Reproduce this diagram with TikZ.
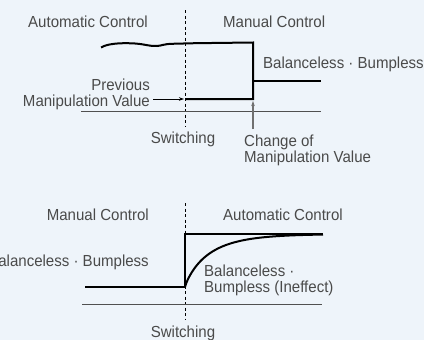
\documentclass[tikz,border=0pt]{standalone}
\usepackage{fontspec}
\setmainfont{Liberation Sans}[FakeStretch=0.94]
\usetikzlibrary{arrows.meta}
\definecolor{bgc}{HTML}{EEF4FA}
\definecolor{txt}{HTML}{4A4A4A}
\definecolor{axisgray}{HTML}{505050}
\definecolor{arrgray}{HTML}{707070}
\tikzset{
  lbl/.style={inner sep=0pt, text=txt, font=\fontsize{16}{17}\selectfont},
  signal/.style={line width=2pt, black, line join=miter},
  axisline/.style={line width=1pt, axisgray},
  switchline/.style={line width=0.9pt, black, dash pattern=on 3pt off 2.5pt},
  pointer/.style={line width=0.9pt, -{Stealth[length=5pt,width=3.5pt]}},
}
\begin{document}
\begin{tikzpicture}[x=1pt,y=-1pt]
\fill[bgc] (0,0) rectangle (424,340);
\useasboundingbox (0,0) rectangle (424,340);

% ---------- upper panel: automatic -> manual ----------
\node[lbl, anchor=base west] (autoA) at (28,27.5) {Automatic Control};
\node[lbl, anchor=base west] (manA) at (223,27.5) {Manual Control};
\node[lbl, anchor=base west] (bbA) at (263,68.5) {Balanceless · Bumpless};
\node[lbl, anchor=base east] (prevA) at (150,90) {Previous};
\node[lbl, anchor=base east] (prevB) at (150,106.5) {Manipulation Value};
\node[lbl, anchor=base] (swA) at (183,143.5) {Switching};
\node[lbl, anchor=base west] (chgA) at (244,146) {Change of};
\node[lbl, anchor=base west] (chgB) at (244,162) {Manipulation Value};

\coordinate (dA1) at (185,10);
\coordinate (dA2) at (185,127);
\coordinate (axA1) at (81,111);
\coordinate (axA2) at (321,111);
\coordinate (w0) at (101,47.5);
\coordinate (sTop) at (253,42.5);
\coordinate (sBot) at (253,99);
\coordinate (sMid) at (253,81);
\coordinate (sEnd) at (321,81);
\coordinate (sPrev) at (185,99);
\coordinate (prevTip) at (184,99);
\coordinate (chgTip) at (253,101);
\coordinate (chgTail) at (253,129);

\draw[switchline] (dA1) -- (dA2);
\draw[axisline] (axA1) -- (axA2);
% automatic output, then the step at switching
\draw[signal] (w0) .. controls (107,44) and (118,42.5) .. (135,43.5)
  .. controls (146,44.3) and (150,46.5) .. (157,46)
  .. controls (162,45.6) and (164,44) .. (172,43.8)
  -- (195,43.2) -- (sTop) -- (sBot) -- (sPrev);
\draw[signal] (sMid) -- (sEnd);
\draw[pointer, black] ([xshift=3pt]prevB.east |- sPrev) -- (prevTip);
\draw[pointer, arrgray, line width=1.3pt] (chgTail) -- (chgTip);

% ---------- lower panel: manual -> automatic ----------
\node[lbl, anchor=base east] (manB) at (149,220) {Manual Control};
\node[lbl, anchor=base west] (autoB) at (223,220) {Automatic Control};
\node[lbl, anchor=base east] (bbB) at (149,266.5) {Balanceless · Bumpless};
\node[lbl, anchor=base west] (bbC) at (204,276) {Balanceless ·};
\node[lbl, anchor=base west] (bbD) at (204,292.5) {Bumpless (Ineffect)};
\node[lbl, anchor=base] (swB) at (183,337) {Switching};

\coordinate (dB1) at (185,203);
\coordinate (dB2) at (185,319);
\coordinate (axB1) at (82,304);
\coordinate (axB2) at (322,304);
\coordinate (lo0) at (85,287);
\coordinate (loS) at (185,287);
\coordinate (hiS) at (185,234);
\coordinate (hiE) at (323,234);

\draw[switchline] (dB1) -- (dB2);
\draw[axisline] (axB1) -- (axB2);
\draw[signal] (lo0) -- (loS) -- (hiS) -- (hiE);
% bumpless transfer: smooth approach to the setpoint
\draw[signal] (loS) -- plot[domain=0.05:138, samples=90, smooth]
  ({185+\x},{287-53*(1-exp(-((\x/24.5)^0.877)))});
\end{tikzpicture}
\end{document}
